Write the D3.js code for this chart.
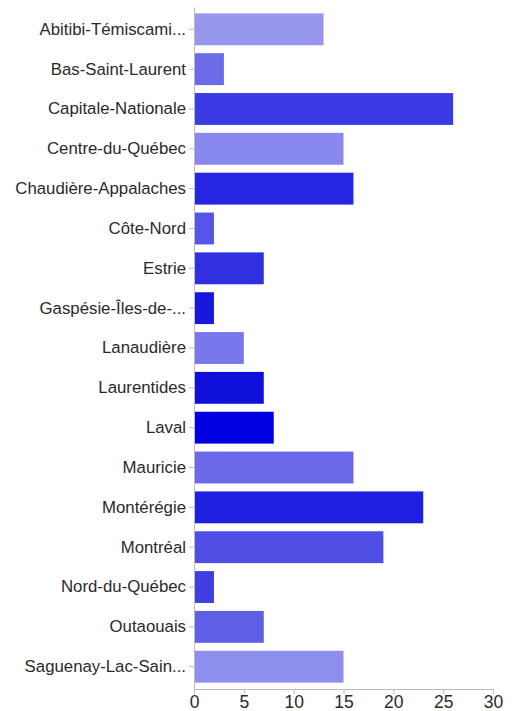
<!DOCTYPE html>
<html>
<head>
<meta charset="utf-8">
<script src="https://cdn.jsdelivr.net/npm/d3@7"></script>
<style>
  html, body { margin: 0; padding: 0; background: #fff; }
  svg { display: block; }
  .axis text { font-family: "Liberation Sans", Arial, Helvetica, sans-serif; fill: #2a2a2a; }
  .axis path, .axis line { stroke: #bbb; }
</style>
</head>
<body>
<svg id="chart" width="515" height="711"></svg>
<script>
// Regions of Québec (labels truncated as displayed on the axis)
const regions = [
  "Abitibi-Témiscami...",
  "Bas-Saint-Laurent",
  "Capitale-Nationale",
  "Centre-du-Québec",
  "Chaudière-Appalaches",
  "Côte-Nord",
  "Estrie",
  "Gaspésie-Îles-de-...",
  "Lanaudière",
  "Laurentides",
  "Laval",
  "Mauricie",
  "Montérégie",
  "Montréal",
  "Nord-du-Québec",
  "Outaouais",
  "Saguenay-Lac-Sain..."
];

// Count per region
const counts = [13, 3, 26, 15, 16, 2, 7, 2, 5, 7, 8, 16, 23, 19, 2, 7, 15];

// One shade of blue per region
const barColors = [
  "#9696ec", "#6b6be8", "#3b3be6", "#8888ee", "#2626e2", "#5555e8",
  "#3030e0", "#1818dc", "#7878ec", "#1010dc", "#0000e0", "#6a6ae8",
  "#1f1fe0", "#4f4fe6", "#3e3ee2", "#5e5ee6", "#8e8eee"
];

const xTicks = [0, 5, 10, 15, 20, 25, 30];

const data = regions.map((r, i) => ({ region: r, value: counts[i], color: barColors[i] }));

const margin = { top: 7, right: 22, bottom: 22, left: 194 };
const width = 515, height = 711;

const svg = d3.select("#chart");

const x = d3.scaleLinear()
  .domain([0, 30])
  .range([margin.left, width - margin.right]);

const y = d3.scaleBand()
  .domain(regions)
  .range([margin.top, height - margin.bottom])
  .paddingInner(0.2)
  .paddingOuter(0.16);

svg.append("g")
  .selectAll("rect")
  .data(data)
  .join("rect")
  .attr("x", x(0) + 1)
  .attr("y", d => y(d.region))
  .attr("width", d => x(d.value) - x(0) - 1)
  .attr("height", y.bandwidth())
  .attr("fill", d => d.color);

const yAxis = svg.append("g")
  .attr("class", "axis")
  .attr("transform", `translate(${margin.left},0)`)
  .call(d3.axisLeft(y).tickSize(5).tickPadding(3).tickSizeOuter(0));
yAxis.selectAll("text").style("font-size", "16.8px");

const xAxis = svg.append("g")
  .attr("class", "axis")
  .attr("transform", `translate(0,${height - margin.bottom})`)
  .call(d3.axisBottom(x).tickValues(xTicks).tickSize(5).tickPadding(2).tickSizeOuter(0));
xAxis.selectAll("text").style("font-size", "17.5px");
</script>
</body>
</html>
